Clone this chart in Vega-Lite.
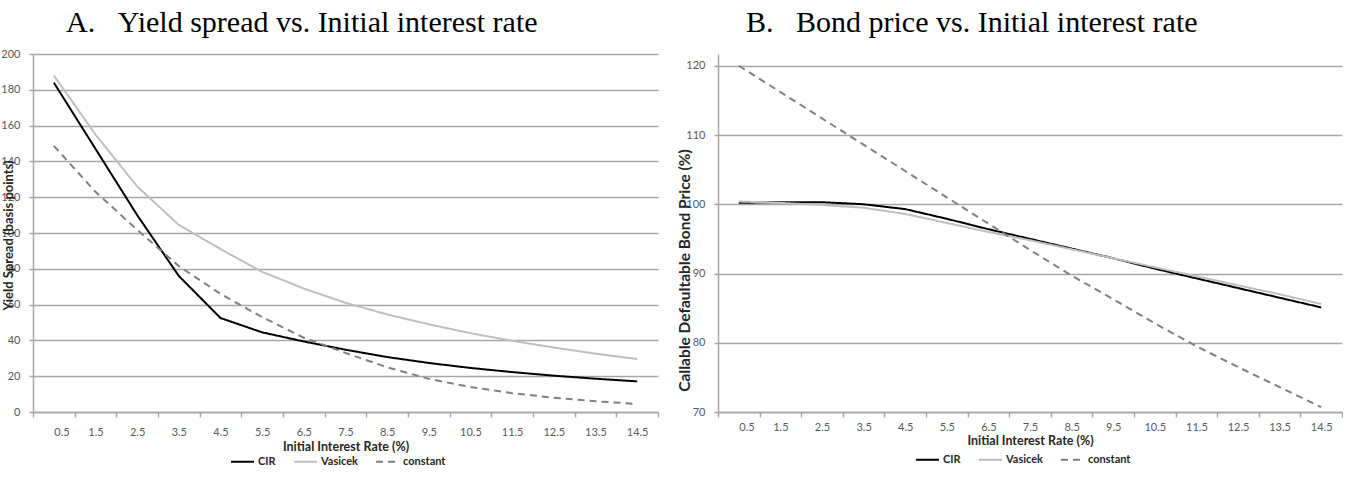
{
  "$schema": "https://vega.github.io/schema/vega-lite/v6.json",
  "padding": {"left": 0, "top": 8, "right": 0, "bottom": 0},
  "background": "white",
  "spacing": 18,
  "config": {
    "view": {"stroke": null},
    "font": "Lato",
    "title": {"baseline": "alphabetic"},
    "axis": {
      "labelFont": "Lato", "labelFontSize": 11, "labelColor": "#595959",
      "domainColor": "#a6a6a6", "tickColor": "#a6a6a6", "gridColor": "#a6a6a6",
      "gridWidth": 1.5, "domainWidth": 1.5, "tickWidth": 1.5, "tickSize": 5,
      "titleFont": "Lato", "titleFontSize": 12.5, "titleColor": "#262626", "titleFontWeight": "bold"
    }
  },
  "resolve": {"legend": {"color": "independent", "strokeDash": "independent"}, "scale": {"y": "independent"}},
  "datasets": {
    "spread": [
      {"rate": 0.5, "model": "CIR", "value": 184}, {"rate": 1.5, "model": "CIR", "value": 147}, {"rate": 2.5, "model": "CIR", "value": 110}, {"rate": 3.5, "model": "CIR", "value": 76}, {"rate": 4.5, "model": "CIR", "value": 52.5}, {"rate": 5.5, "model": "CIR", "value": 44.5}, {"rate": 6.5, "model": "CIR", "value": 39.4}, {"rate": 7.5, "model": "CIR", "value": 34.8}, {"rate": 8.5, "model": "CIR", "value": 30.7}, {"rate": 9.5, "model": "CIR", "value": 27.4}, {"rate": 10.5, "model": "CIR", "value": 24.6}, {"rate": 11.5, "model": "CIR", "value": 22.3}, {"rate": 12.5, "model": "CIR", "value": 20.3}, {"rate": 13.5, "model": "CIR", "value": 18.6}, {"rate": 14.5, "model": "CIR", "value": 17.1},
      {"rate": 0.5, "model": "Vasicek", "value": 188}, {"rate": 1.5, "model": "Vasicek", "value": 155}, {"rate": 2.5, "model": "Vasicek", "value": 126}, {"rate": 3.5, "model": "Vasicek", "value": 104.5}, {"rate": 4.5, "model": "Vasicek", "value": 91}, {"rate": 5.5, "model": "Vasicek", "value": 78.3}, {"rate": 6.5, "model": "Vasicek", "value": 69}, {"rate": 7.5, "model": "Vasicek", "value": 61}, {"rate": 8.5, "model": "Vasicek", "value": 54.5}, {"rate": 9.5, "model": "Vasicek", "value": 49}, {"rate": 10.5, "model": "Vasicek", "value": 44}, {"rate": 11.5, "model": "Vasicek", "value": 39.8}, {"rate": 12.5, "model": "Vasicek", "value": 36}, {"rate": 13.5, "model": "Vasicek", "value": 32.6}, {"rate": 14.5, "model": "Vasicek", "value": 29.6},
      {"rate": 0.5, "model": "constant", "value": 148.7}, {"rate": 1.5, "model": "constant", "value": 123}, {"rate": 2.5, "model": "constant", "value": 101.8}, {"rate": 3.5, "model": "constant", "value": 81.5}, {"rate": 4.5, "model": "constant", "value": 66}, {"rate": 5.5, "model": "constant", "value": 53}, {"rate": 6.5, "model": "constant", "value": 41.5}, {"rate": 7.5, "model": "constant", "value": 33}, {"rate": 8.5, "model": "constant", "value": 25}, {"rate": 9.5, "model": "constant", "value": 18.5}, {"rate": 10.5, "model": "constant", "value": 14}, {"rate": 11.5, "model": "constant", "value": 10.5}, {"rate": 12.5, "model": "constant", "value": 8}, {"rate": 13.5, "model": "constant", "value": 6}, {"rate": 14.5, "model": "constant", "value": 4.5}
    ],
    "price": [
      {"rate": 0.5, "model": "CIR", "value": 100.2}, {"rate": 1.5, "model": "CIR", "value": 100.3}, {"rate": 2.5, "model": "CIR", "value": 100.3}, {"rate": 3.5, "model": "CIR", "value": 100.0}, {"rate": 4.5, "model": "CIR", "value": 99.3}, {"rate": 5.5, "model": "CIR", "value": 97.9}, {"rate": 6.5, "model": "CIR", "value": 96.4}, {"rate": 7.5, "model": "CIR", "value": 95.0}, {"rate": 8.5, "model": "CIR", "value": 93.6}, {"rate": 9.5, "model": "CIR", "value": 92.2}, {"rate": 10.5, "model": "CIR", "value": 90.7}, {"rate": 11.5, "model": "CIR", "value": 89.3}, {"rate": 12.5, "model": "CIR", "value": 87.9}, {"rate": 13.5, "model": "CIR", "value": 86.5}, {"rate": 14.5, "model": "CIR", "value": 85.1},
      {"rate": 0.5, "model": "Vasicek", "value": 100.4}, {"rate": 1.5, "model": "Vasicek", "value": 100.2}, {"rate": 2.5, "model": "Vasicek", "value": 99.9}, {"rate": 3.5, "model": "Vasicek", "value": 99.5}, {"rate": 4.5, "model": "Vasicek", "value": 98.6}, {"rate": 5.5, "model": "Vasicek", "value": 97.3}, {"rate": 6.5, "model": "Vasicek", "value": 96.0}, {"rate": 7.5, "model": "Vasicek", "value": 94.8}, {"rate": 8.5, "model": "Vasicek", "value": 93.5}, {"rate": 9.5, "model": "Vasicek", "value": 92.2}, {"rate": 10.5, "model": "Vasicek", "value": 90.9}, {"rate": 11.5, "model": "Vasicek", "value": 89.6}, {"rate": 12.5, "model": "Vasicek", "value": 88.3}, {"rate": 13.5, "model": "Vasicek", "value": 87.0}, {"rate": 14.5, "model": "Vasicek", "value": 85.6},
      {"rate": 0.5, "model": "constant", "value": 120.0}, {"rate": 1.5, "model": "constant", "value": 116.2}, {"rate": 2.5, "model": "constant", "value": 112.4}, {"rate": 3.5, "model": "constant", "value": 108.6}, {"rate": 4.5, "model": "constant", "value": 104.8}, {"rate": 5.5, "model": "constant", "value": 101.0}, {"rate": 6.5, "model": "constant", "value": 97.2}, {"rate": 7.5, "model": "constant", "value": 93.4}, {"rate": 8.5, "model": "constant", "value": 89.7}, {"rate": 9.5, "model": "constant", "value": 86.3}, {"rate": 10.5, "model": "constant", "value": 82.8}, {"rate": 11.5, "model": "constant", "value": 79.5}, {"rate": 12.5, "model": "constant", "value": 76.5}, {"rate": 13.5, "model": "constant", "value": 73.6}, {"rate": 14.5, "model": "constant", "value": 70.7}
    ]
  },
  "hconcat": [
    {
      "width": 625,
      "height": 358,
      "title": {"text": "A.\u2002\u00a0Yield spread vs. Initial interest rate", "font": "Liberation Serif", "fontSize": 30, "fontWeight": "normal", "color": "#000000", "anchor": "start", "frame": "group", "dx": 33, "offset": 10},
      "data": {"name": "spread"},
      "mark": {"type": "line", "strokeWidth": 2},
      "encoding": {
        "x": {"field": "rate", "type": "quantitative", "scale": {"domain": [0, 15], "nice": false, "zero": false},
          "axis": {"values": [0,1,2,3,4,5,6,7,8,9,10,11,12,13,14,15], "labelExpr": "datum.value < 15 ? format(datum.value + 0.5, '.1f') : ''", "labelOffset": 20.8, "grid": false, "title": "Initial Interest Rate (%)", "labelPadding": 9, "titlePadding": 3}},
        "y": {"field": "value", "type": "quantitative", "scale": {"domain": [0, 200], "nice": false},
          "axis": {"values": [0,20,40,60,80,100,120,140,160,180,200], "title": "Yield Spread (basis points)", "titleX": -25, "titleY": 181, "titleAlign": "center", "titleBaseline": "middle", "titleFontSize": 13, "tickSize": 4, "labelPadding": 9}},
        "color": {"field": "model", "type": "nominal", "scale": {"domain": ["CIR", "Vasicek", "constant"], "range": ["#000000", "#bfbfbf", "#808080"]},
          "legend": {"title": null, "orient": "none", "legendX": 197, "legendY": 395, "direction": "horizontal", "symbolType": "stroke", "symbolSize": 529, "symbolStrokeWidth": 2, "labelFont": "Lato", "labelFontSize": 11, "labelFontWeight": "bold", "labelColor": "#262626", "columnPadding": 14, "labelOffset": 3}},
        "strokeDash": {"field": "model", "type": "nominal", "scale": {"domain": ["CIR", "Vasicek", "constant"], "range": [[1, 0], [1, 0], [7, 5]]},
          "legend": {"title": null, "orient": "none", "legendX": 197, "legendY": 395, "direction": "horizontal", "symbolType": "stroke", "symbolSize": 529, "symbolStrokeWidth": 2, "labelFont": "Lato", "labelFontSize": 11, "labelFontWeight": "bold", "labelColor": "#262626", "columnPadding": 14, "labelOffset": 3}}
      }
    },
    {
      "width": 624,
      "height": 358,
      "title": {"text": "B.\u2002\u00a0Bond price vs. Initial interest rate", "font": "Liberation Serif", "fontSize": 30, "fontWeight": "normal", "color": "#000000", "anchor": "start", "frame": "group", "dx": 28, "offset": 16},
      "data": {"name": "price"},
      "mark": {"type": "line", "strokeWidth": 2},
      "encoding": {
        "x": {"field": "rate", "type": "quantitative", "scale": {"domain": [0, 15], "nice": false, "zero": false},
          "axis": {"values": [0,1,2,3,4,5,6,7,8,9,10,11,12,13,14,15], "labelExpr": "datum.value < 15 ? format(datum.value + 0.5, '.1f') : ''", "labelOffset": 20.8, "grid": false, "title": "Initial Interest Rate (%)", "labelPadding": 4, "titlePadding": 2}},
        "y": {"field": "value", "type": "quantitative", "scale": {"domain": [70, 121.7], "nice": false, "zero": false},
          "axis": {"values": [70,80,90,100,110,120], "title": "Callable Defaultable Bond Price (%)", "titleX": -34, "titleY": 216, "titleAlign": "center", "titleBaseline": "middle", "titleFontSize": 15.5, "tickSize": 4, "labelPadding": 9}},
        "color": {"field": "model", "type": "nominal", "scale": {"domain": ["CIR", "Vasicek", "constant"], "range": ["#000000", "#bfbfbf", "#808080"]},
          "legend": {"title": null, "orient": "none", "legendX": 197, "legendY": 393, "direction": "horizontal", "symbolType": "stroke", "symbolSize": 529, "symbolStrokeWidth": 2, "labelFont": "Lato", "labelFontSize": 11, "labelFontWeight": "bold", "labelColor": "#262626", "columnPadding": 14, "labelOffset": 3}},
        "strokeDash": {"field": "model", "type": "nominal", "scale": {"domain": ["CIR", "Vasicek", "constant"], "range": [[1, 0], [1, 0], [7, 5]]},
          "legend": {"title": null, "orient": "none", "legendX": 197, "legendY": 393, "direction": "horizontal", "symbolType": "stroke", "symbolSize": 529, "symbolStrokeWidth": 2, "labelFont": "Lato", "labelFontSize": 11, "labelFontWeight": "bold", "labelColor": "#262626", "columnPadding": 14, "labelOffset": 3}}
      }
    }
  ]
}
